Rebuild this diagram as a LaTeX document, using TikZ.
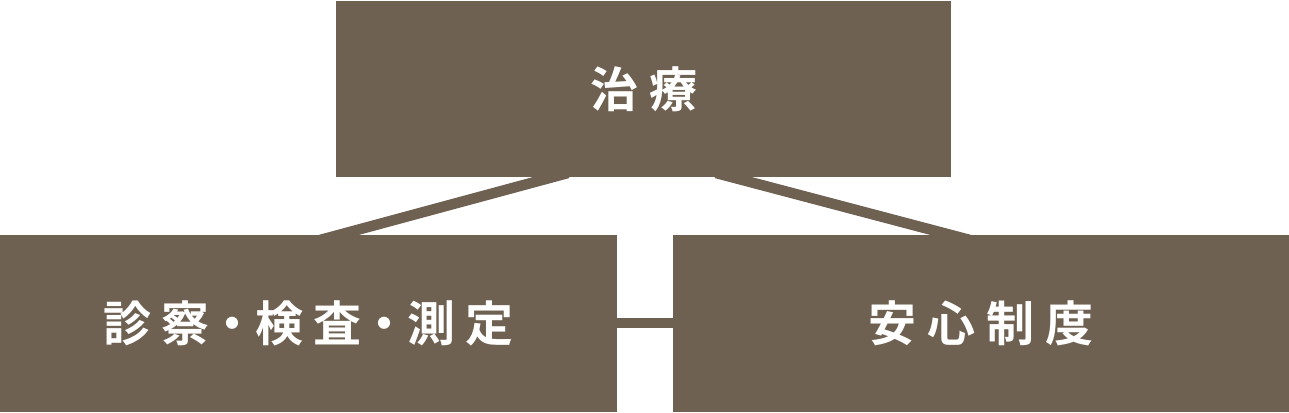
\documentclass[tikz,border=0pt]{standalone}
\usepackage{fontspec}
\newfontfamily\cjk{Noto Sans CJK JP Bold}
\definecolor{boxbrown}{HTML}{6F6151}
\tikzset{
  box/.style={fill=boxbrown, draw=none, inner sep=0pt},
  link/.style={draw=boxbrown, line width=10.5pt},
  label/.style={text=white, font=\cjk\fontsize{48}{48}\selectfont, inner sep=0pt}
}
\newcommand{\gp}{\hspace{11pt}}
\newcommand{\dt}{\hspace{-1.5pt}・\hspace{-1.5pt}}
\begin{document}
\begin{tikzpicture}[x=1pt,y=-1pt]
\useasboundingbox (0,0) rectangle (1289,412);
% connectors first
\coordinate (tl) at (568,173);
\coordinate (bl) at (320,240);
\coordinate (tr) at (716,173);
\coordinate (br) at (970,240);
\draw[link] (tl) -- (bl);
\draw[link] (tr) -- (br);
% boxes
\path[box] (336,1) rectangle (951,177) node[pos=0.5, label] (top) {治\gp 療};
\path[box] (0,235) rectangle (617,412) node[pos=0.5, label] (left) {診\gp 察\dt 検\gp 査\dt 測\gp 定};
\path[box] (673,235) rectangle (1289,412) node[pos=0.5, label] (right) {安\gp 心\gp 制\gp 度};
\coordinate (hl) at (617,323);
\coordinate (hr) at (673,323);
\draw[draw=boxbrown, line width=10pt] (hl) -- (hr);
\end{tikzpicture}
\end{document}
